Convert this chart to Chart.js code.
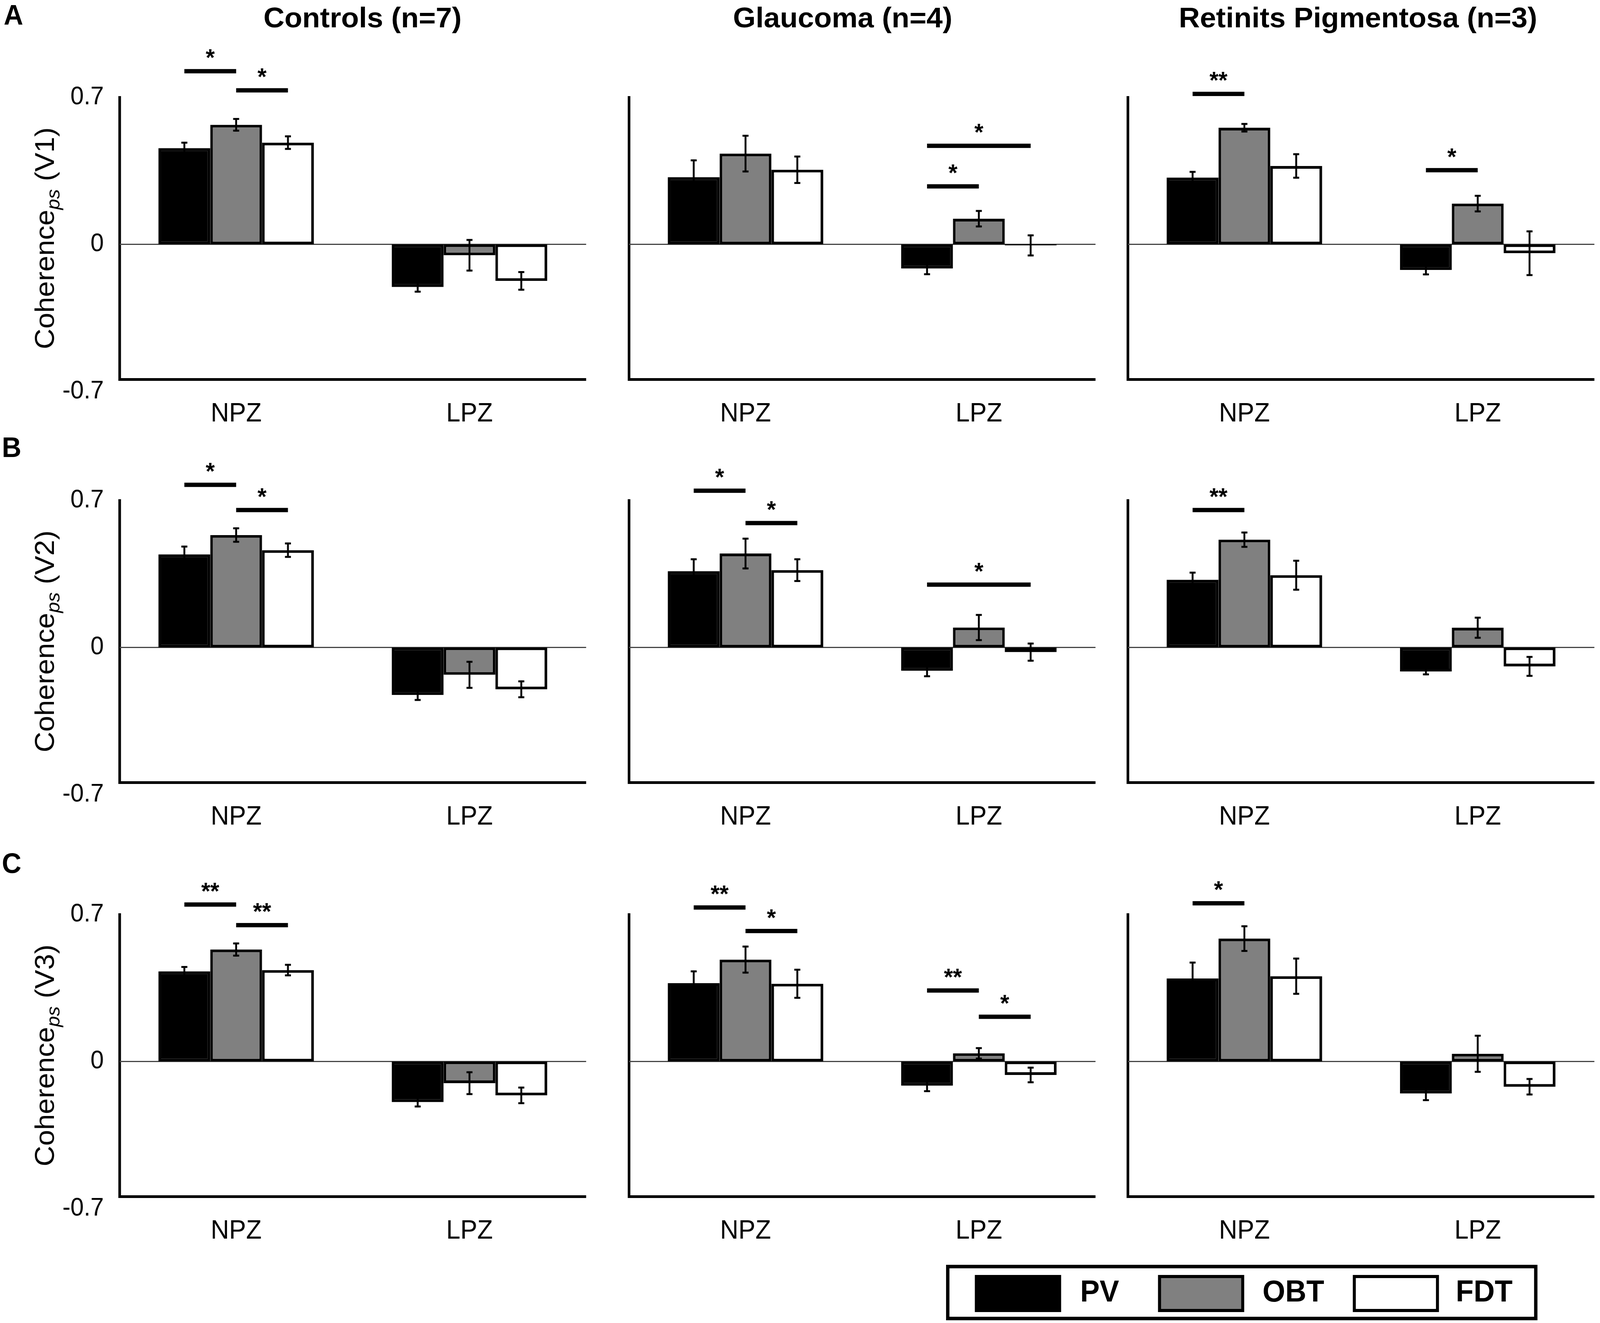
<!DOCTYPE html>
<html>
<head>
<meta charset="utf-8">
<title>Coherence ps by group and area</title>
<script src="https://cdn.jsdelivr.net/npm/chart.js@4.4.0/dist/chart.umd.min.js"></script>
<style>
  html, body { margin: 0; background: #fff; overflow: hidden; }
  #page { position: relative; width: 4272px; height: 3387px; background: #fff; overflow: hidden;
          font-family: "Liberation Sans", Arial, sans-serif; color: #000; transform-origin: 0 0; }
  #page canvas { position: absolute; }
  .txt { position: absolute; white-space: nowrap; line-height: 1; }
</style>
</head>
<body>
<div id="page"></div>
<script>
const groups = ["Controls (n=7)", "Glaucoma (n=4)", "Retinits Pigmentosa (n=3)"];
const areas = ["V1", "V2", "V3"];
const panelLetters = ["A", "B", "C"];
const categories = ["NPZ", "LPZ"];
const seriesNames = ["PV", "OBT", "FDT"];
const yTicks = [0.7, 0, -0.7];

// mean coherence, one [NPZ, LPZ] pair per group: Controls, Glaucoma, RP
const PV_V1 = [[0.458, -0.203], [0.320, -0.115], [0.318, -0.122]];
const OBT_V1 = [[0.569, -0.052], [0.432, 0.122], [0.555, 0.194]];
const FDT_V1 = [[0.484, -0.174], [0.355, -0.005], [0.373, -0.042]];
const PV_V2 = [[0.443, -0.226], [0.363, -0.111], [0.322, -0.114]];
const OBT_V2 = [[0.535, -0.130], [0.447, 0.095], [0.513, 0.094]];
const FDT_V2 = [[0.463, -0.199], [0.368, -0.022], [0.344, -0.090]];
const PV_V3 = [[0.429, -0.193], [0.373, -0.115], [0.395, -0.152]];
const OBT_V3 = [[0.533, -0.103], [0.485, 0.039], [0.585, 0.037]];
const FDT_V3 = [[0.435, -0.161], [0.370, -0.064], [0.406, -0.120]];

// error bars (half length)
const PV_V1_err = [[0.026, 0.022], [0.080, 0.027], [0.027, 0.021]];
const OBT_V1_err = [[0.028, 0.073], [0.085, 0.037], [0.018, 0.037]];
const FDT_V1_err = [[0.030, 0.042], [0.063, 0.048], [0.056, 0.104]];
const PV_V2_err = [[0.037, 0.024], [0.057, 0.026], [0.034, 0.014]];
const OBT_V2_err = [[0.032, 0.062], [0.071, 0.060], [0.034, 0.048]];
const FDT_V2_err = [[0.032, 0.038], [0.052, 0.041], [0.069, 0.045]];
const PV_V3_err = [[0.021, 0.021], [0.056, 0.026], [0.076, 0.032]];
const OBT_V3_err = [[0.029, 0.052], [0.062, 0.025], [0.059, 0.086]];
const FDT_V3_err = [[0.025, 0.037], [0.067, 0.035], [0.084, 0.037]];

// significance: [bar a, bar b, height, stars]; bars 0-2 = NPZ PV/OBT/FDT, 3-5 = LPZ
const sig_V1 = [[[0, 1, 0.824, "*"], [1, 2, 0.733, "*"]],
                [[3, 5, 0.469, "*"], [3, 4, 0.276, "*"]],
                [[0, 1, 0.716, "**"], [3, 4, 0.353, "*"]]];
const sig_V2 = [[[0, 1, 0.774, "*"], [1, 2, 0.654, "*"]],
                [[0, 1, 0.746, "*"], [1, 2, 0.592, "*"], [3, 5, 0.299, "*"]],
                [[0, 1, 0.654, "**"]]];
const sig_V3 = [[[0, 1, 0.747, "**"], [1, 2, 0.649, "**"]],
                [[0, 1, 0.733, "**"], [1, 2, 0.621, "*"], [3, 4, 0.338, "**"], [4, 5, 0.213, "*"]],
                [[0, 1, 0.753, "*"]]];

const means = { V1: [PV_V1, OBT_V1, FDT_V1], V2: [PV_V2, OBT_V2, FDT_V2], V3: [PV_V3, OBT_V3, FDT_V3] };
const errs = { V1: [PV_V1_err, OBT_V1_err, FDT_V1_err], V2: [PV_V2_err, OBT_V2_err, FDT_V2_err],
               V3: [PV_V3_err, OBT_V3_err, FDT_V3_err] };
const sigs = { V1: sig_V1, V2: sig_V2, V3: sig_V3 };

const fills = ["#000000", "#808080", "#ffffff"];
const FONT = '"Liberation Sans", Arial, sans-serif';

// layout (pixels, in a 4272 x 3387 page)
const axisX = [319, 1679, 3011];
const plotTop = [249, 1281, 2341];
const plotW = 1246, plotH = 722;
const YW = 280, PT = 260, XH = 170;

const page = document.getElementById("page");
// the window can be narrower than 4272, so squeeze the page to fill it
const sx = window.innerWidth / 4272, sy = window.innerHeight / 3387;
if (sx > 0 && sy > 0 && (Math.abs(sx - 1) > 0.002 || Math.abs(sy - 1) > 0.002)) {
  page.style.transform = "scale(" + sx + "," + sy + ")";
}

function addText(str, x, baseline, size, weight, center, stretch) {
  const d = document.createElement("div");
  d.className = "txt";
  d.textContent = str;
  d.style.fontSize = size + "px";
  d.style.fontWeight = weight;
  d.style.left = x + "px";
  d.style.top = (baseline - 0.8465 * size) + "px";
  if (center) {
    d.style.transform = "translateX(-50%) scaleX(" + (stretch || 1) + ")";
  }
  page.appendChild(d);
  return d;
}

let zeroLine = {
  id: "zeroLine",
  beforeDatasetsDraw(chart) {
    const { ctx, chartArea, scales } = chart;
    const y = scales.y.getPixelForValue(0);
    ctx.save();
    ctx.strokeStyle = "#444";
    ctx.lineWidth = 3;
    ctx.beginPath();
    ctx.moveTo(chartArea.left, y);
    ctx.lineTo(chartArea.right, y);
    ctx.stroke();
    ctx.restore();
  }
};

let errorBars = {
  id: "errorBars",
  afterDatasetsDraw(chart) {
    const { ctx, scales } = chart;
    ctx.save();
    ctx.strokeStyle = "#000";
    ctx.lineWidth = 5;
    chart.data.datasets.forEach((ds, i) => {
      chart.getDatasetMeta(i).data.forEach((bar, j) => {
        const y1 = scales.y.getPixelForValue(ds.data[j] + ds.err[j]);
        const y2 = scales.y.getPixelForValue(ds.data[j] - ds.err[j]);
        ctx.beginPath();
        ctx.moveTo(bar.x, y1); ctx.lineTo(bar.x, y2);
        ctx.moveTo(bar.x - 8, y1); ctx.lineTo(bar.x + 8, y1);
        ctx.moveTo(bar.x - 8, y2); ctx.lineTo(bar.x + 8, y2);
        ctx.stroke();
      });
    });
    ctx.restore();
  }
};

function sigBars(marks) {
  return {
    id: "sigBars",
    afterDatasetsDraw(chart) {
      const { ctx, scales } = chart;
      const slotX = (k) => chart.getDatasetMeta(k % 3).data[Math.floor(k / 3)].x;
      ctx.save();
      ctx.fillStyle = "#000";
      ctx.font = "bold 62px " + FONT;
      ctx.textAlign = "center";
      ctx.textBaseline = "alphabetic";
      marks.forEach(([a, b, level, label]) => {
        const x1 = slotX(a), x2 = slotX(b);
        const y = scales.y.getPixelForValue(level);
        ctx.fillRect(x1, y - 5.5, x2 - x1, 11);
        ctx.fillText(label, (x1 + x2) / 2, y - 14);
      });
      ctx.restore();
    }
  };
}

function yTitle(area) {
  return {
    id: "yTitle",
    afterDraw(chart) {
      const { ctx, chartArea } = chart;
      const big = "73px " + FONT, small = "italic 50px " + FONT;
      const parts = [["Coherence", big, 0], ["ps", small, 15], [" (" + area + ")", big, 0]];
      ctx.save();
      ctx.translate(chartArea.left - 175, (chartArea.top + chartArea.bottom) / 2);
      ctx.rotate(-Math.PI / 2);
      ctx.fillStyle = "#000";
      ctx.textBaseline = "alphabetic";
      let total = 0;
      parts.forEach((p) => { ctx.font = p[1]; total += ctx.measureText(p[0]).width; });
      let cx = -total / 2;
      parts.forEach((p) => {
        ctx.font = p[1];
        ctx.fillText(p[0], cx, p[2]);
        cx += ctx.measureText(p[0]).width;
      });
      ctx.restore();
    }
  };
}

areas.forEach((area, r) => {
  groups.forEach((g, c) => {
    const cv = document.createElement("canvas");
    cv.width = YW + plotW;
    cv.height = PT + plotH + XH;
    cv.style.left = (axisX[c] - YW) + "px";
    cv.style.top = (plotTop[r] - PT) + "px";
    page.appendChild(cv);

    const plugins = [zeroLine, errorBars, sigBars(sigs[area][c])];
    if (c === 0) plugins.push(yTitle(area));

    new Chart(cv, {
      type: "bar",
      data: {
        labels: categories,
        datasets: seriesNames.map((name, s) => ({
          label: name,
          data: means[area][s][c],
          err: errs[area][s][c],
          backgroundColor: fills[s],
          borderColor: "#000",
          borderWidth: 7,
          borderSkipped: false,
          barPercentage: 1,
          categoryPercentage: 0.666,
        })),
      },
      options: {
        responsive: false,
        animation: false,
        devicePixelRatio: 1,
        layout: { padding: { top: PT, left: 0, right: 0, bottom: 0 } },
        plugins: { legend: { display: false }, tooltip: { enabled: false } },
        scales: {
          x: {
            grid: { display: false, drawTicks: false },
            border: { display: true, color: "#000", width: 7 },
            ticks: { color: "#000", font: { family: FONT, size: 68 }, padding: 48 },
            afterFit: (s) => { s.height = XH; },
          },
          y: {
            min: -0.642,
            max: 0.7,
            afterBuildTicks: (s) => { s.ticks = yTicks.map((v) => ({ value: v })); },
            grid: { display: false, drawTicks: false },
            border: { display: true, color: "#000", width: 7 },
            ticks: {
              display: c === 0,
              color: "#000",
              font: { family: FONT, size: 64 },
              padding: 42,
              callback: (v) => (v === 0 ? "0" : String(v)),
            },
            afterFit: (s) => { s.width = YW; },
          },
        },
      },
      plugins: plugins,
    });
  });
});

// column titles and panel letters
const titleX = [968, 2250, 3626];
groups.forEach((g, c) => addText(g, titleX[c], 70, 72, "bold", true, 1.08));
const letterPos = [[10, 63], [5, 1170], [5, 2235]];
panelLetters.forEach((l, r) => addText(l, letterPos[r][0], letterPos[r][1], 72, "bold"));

// legend
const box = document.createElement("div");
box.style.cssText = "position:absolute;left:2526px;top:3238px;width:1579px;height:142px;" +
  "border:9px solid #000;box-sizing:border-box;background:#fff;";
page.appendChild(box);
const swatchX = [2603, 3092, 3612];
const legLabelX = [2884, 3371, 3887];
seriesNames.forEach((name, s) => {
  const sw = document.createElement("div");
  sw.style.cssText = "position:absolute;top:3264px;width:230px;height:95px;box-sizing:border-box;" +
    "border:8px solid #000;left:" + swatchX[s] + "px;background:" + fills[s] + ";";
  page.appendChild(sw);
  addText(name, legLabelX[s], 3332, 78, "bold");
});
</script>
</body>
</html>
